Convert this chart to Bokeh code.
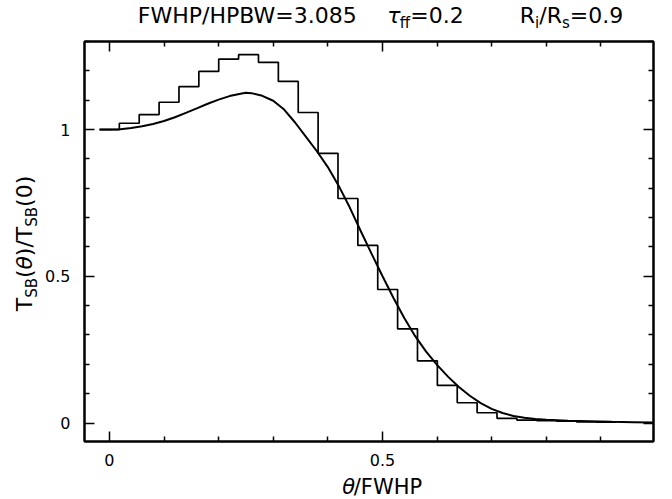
from math import pi
from bokeh.plotting import figure
from bokeh.layouts import column, row
from bokeh.models import Range1d, LinearAxis, FixedTicker, Label, CustomJSTickFormatter
from bokeh.embed import file_html
from bokeh.resources import INLINE

# ---------------- data ----------------
# binned (pixelated) profile: bin centres in theta/FWHP and values
bin_theta = [0.0000, 0.0364, 0.0728, 0.1092, 0.1456, 0.1820, 0.2184, 0.2548,
             0.2912, 0.3276, 0.3640, 0.4004, 0.4368, 0.4732, 0.5096, 0.5460,
             0.5824, 0.6188, 0.6552, 0.6916, 0.7280, 0.7644, 0.8008, 0.8372,
             0.8736, 0.9100]
bin_value = [1.000, 1.0215, 1.051, 1.093, 1.146, 1.198, 1.240, 1.255,
             1.229, 1.164, 1.058, 0.919, 0.765, 0.605, 0.455, 0.321,
             0.212, 0.128, 0.069, 0.035, 0.016, 0.010, 0.008, 0.006,
             0.004, 0.003]

# smooth model profile
curve_theta = [-0.018, 0.00, 0.02, 0.04, 0.06, 0.08, 0.10, 0.12, 0.14, 0.16,
               0.18, 0.20, 0.22, 0.24, 0.25, 0.26, 0.28, 0.30, 0.32, 0.34,
               0.36, 0.38, 0.40, 0.42, 0.44, 0.46, 0.48, 0.50, 0.52, 0.54,
               0.56, 0.58, 0.60, 0.62, 0.64, 0.66, 0.68, 0.70, 0.72, 0.74,
               0.76, 0.78, 0.80, 0.84, 0.88, 0.92, 0.96, 0.995]
curve_value = [1.000, 1.000, 1.001, 1.005, 1.011, 1.019, 1.029, 1.042, 1.057, 1.072,
               1.088, 1.102, 1.114, 1.122, 1.125, 1.124, 1.115, 1.098, 1.068, 1.024,
               0.975, 0.926, 0.872, 0.808, 0.735, 0.655, 0.577, 0.501, 0.427, 0.358,
               0.296, 0.243, 0.198, 0.158, 0.123, 0.093, 0.068, 0.048, 0.034, 0.024,
               0.018, 0.014, 0.011, 0.008, 0.006, 0.004, 0.003, 0.002]

x_major = [0, 0.5]
x_minor = [0.1, 0.2, 0.3, 0.4, 0.6, 0.7, 0.8, 0.9]
y_major = [0, 0.5, 1.0]
y_minor = [0.1, 0.2, 0.3, 0.4, 0.6, 0.7, 0.8, 0.9, 1.1, 1.2, 1.3]

FONT = "DejaVu Sans"

# ---------------- layout (page pixels) ----------------
TOTAL_W, TOTAL_H = 672, 499
TITLE_H = 36
YLAB_W = 42
XLAB_H = 25
MAIN_W = TOTAL_W - YLAB_W            # 630
MAIN_H = TOTAL_H - TITLE_H - XLAB_H  # 438

# ---------------- main plot ----------------
p = figure(width=MAIN_W, height=MAIN_H, output_backend="svg", toolbar_location=None,
           x_range=Range1d(-0.0456, 0.9964), y_range=Range1d(-0.063, 1.30),
           min_border_left=40, min_border_right=19, min_border_top=5,
           min_border_bottom=33, background_fill_color="white",
           border_fill_color="white")
p.grid.visible = False
p.outline_line_color = "black"
p.outline_line_width = 2


def style_axis(ax, ticker, show_labels):
    ax.ticker = ticker
    ax.axis_line_color = "black"
    ax.axis_line_width = 2
    ax.major_tick_in = 10
    ax.major_tick_out = 0
    ax.minor_tick_in = 5
    ax.minor_tick_out = 0
    ax.major_tick_line_width = 1.5
    ax.minor_tick_line_width = 1.5
    ax.major_tick_line_color = "black"
    ax.minor_tick_line_color = "black"
    if show_labels:
        ax.formatter = CustomJSTickFormatter(code="return tick.toString()")
        ax.major_label_text_font = FONT
        ax.major_label_text_font_size = "16px"
        ax.major_label_text_color = "black"
    else:
        ax.formatter = CustomJSTickFormatter(code="return ''")
        ax.major_label_text_font_size = "1px"
        ax.major_label_standoff = 0


style_axis(p.xaxis[0], FixedTicker(ticks=x_major, minor_ticks=x_minor), True)
style_axis(p.yaxis[0], FixedTicker(ticks=y_major, minor_ticks=y_minor), True)
p.xaxis[0].major_label_standoff = 12
p.yaxis[0].major_label_standoff = 14
top = LinearAxis()
right = LinearAxis()
style_axis(top, FixedTicker(ticks=x_major, minor_ticks=x_minor), False)
style_axis(right, FixedTicker(ticks=y_major, minor_ticks=y_minor), False)
p.add_layout(top, "above")
p.add_layout(right, "right")

edges = [bin_theta[0] - (bin_theta[1] - bin_theta[0]) / 2]
for a, b in zip(bin_theta[:-1], bin_theta[1:]):
    edges.append((a + b) / 2)
edges.append(bin_theta[-1] + (bin_theta[-1] - bin_theta[-2]) / 2)
step_y = bin_value + [bin_value[-1]]
p.step(edges, step_y, mode="after", line_color="black", line_width=1.7)
p.line(curve_theta, curve_value, line_color="black", line_width=2)


# ---------------- text panels (own figures so nothing is clipped) ----------------
def text_fig(w, h):
    f = figure(width=w, height=h, output_backend="svg", toolbar_location=None,
               x_range=Range1d(0, w), y_range=Range1d(h, 0),
               x_axis_type=None, y_axis_type=None, min_border=0,
               min_border_left=0, min_border_right=0, min_border_top=0,
               min_border_bottom=0, outline_line_color=None,
               background_fill_color="white", border_fill_color="white")
    f.grid.visible = False
    return f


EM = {" ": 0.318, "F": 0.575, "W": 0.989, "H": 0.752, "P": 0.603, "/": 0.337,
      "B": 0.686, "=": 0.838, ".": 0.318, "R": 0.695, "i": 0.278, "s": 0.521,
      "f": 0.352, "T": 0.611, "S": 0.635, "(": 0.390, ")": 0.390,
      "\u03b8": 0.602, "\u03c4": 0.560}
MID = 0.346   # baseline lies this many em below the middle of the text box


def tw(text, size):
    return sum(EM.get(c, 0.636) for c in text) * size


def runs_width(runs):
    return sum(tw(t, s) for t, s, _, _ in runs)


def place(f, ox, oy, runs, x0, y0, vertical=False):
    """x0, y0: page pixels of the baseline start; ox, oy: page origin of figure f."""
    pos = 0.0
    for text, size, shift, italic in runs:
        if vertical:
            px, py, ang = x0 + shift - MID * size, y0 - pos, pi / 2
        else:
            px, py, ang = x0 + pos, y0 + shift - MID * size, 0
        f.add_layout(Label(x=px - ox, y=py - oy, text=text, angle=ang,
                           text_font=FONT, text_font_size=f"{size}px",
                           text_font_style="italic" if italic else "normal",
                           text_align="left", text_baseline="middle",
                           text_color="black"))
        pos += tw(text, size)


TS, SS = 22, 15
title1 = [("FWHP/HPBW=3.085", TS, 0, False)]
title2 = [("\u03c4", TS, 0, True), ("ff", SS, 5, False), ("=0.2", TS, 0, False)]
title3 = [("R", TS, 0, False), ("i", SS, 5, False), ("/R", TS, 0, False),
          ("s", SS, 5, False), ("=0.9", TS, 0, False)]
tf = text_fig(TOTAL_W, TITLE_H)
TB = 23
place(tf, 0, 0, title1, 357 - runs_width(title1), TB)
place(tf, 0, 0, title2, 425 - runs_width(title2) / 2, TB)
place(tf, 0, 0, title3, 571 - runs_width(title3) / 2, TB)

LS, LSS = 22, 15
ylab = [("T", LS, 0, False), ("SB", LSS, 5, False), ("(", LS, 0, False),
        ("\u03b8", LS, 0, True), (")/T", LS, 0, False), ("SB", LSS, 5, False),
        ("(0)", LS, 0, False)]
yf = text_fig(YLAB_W, TOTAL_H - TITLE_H)
place(yf, 0, TITLE_H, ylab, 32, 243 + runs_width(ylab) / 2, vertical=True)

XS = 21
xlab = [("\u03b8", XS, 0, True), ("/FWHP", XS, 0, False)]
xf = text_fig(MAIN_W, XLAB_H)
place(xf, YLAB_W, TITLE_H + MAIN_H, xlab, 368 - runs_width(xlab) / 2, 493.5)

layout = column(tf, row(yf, column(p, xf, spacing=0), spacing=0), spacing=0)

open("out.html", "w").write(file_html(layout, INLINE))
